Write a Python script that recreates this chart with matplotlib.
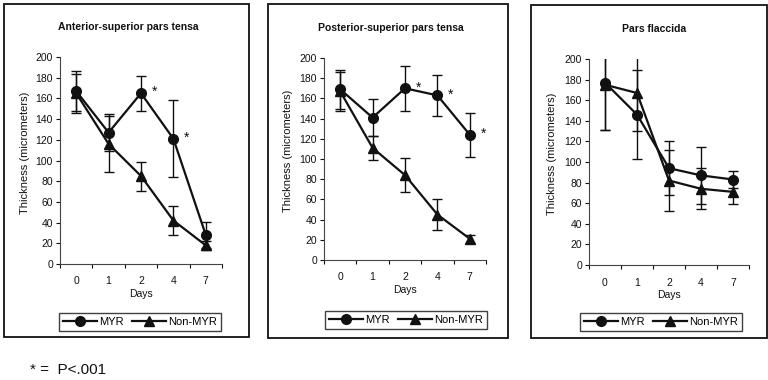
import matplotlib
matplotlib.use("Agg")
import matplotlib.pyplot as plt
from matplotlib.patches import Rectangle
from matplotlib.lines import Line2D

plt.rcParams['font.family'] = ['Liberation Sans', 'DejaVu Sans']

days = ["0", "1", "2", "4", "7"]
titles = ["Anterior-superior pars tensa", "Posterior-superior pars tensa", "Pars flaccida"]

myr_as = [167, 127, 165, 121, 28]
myr_as_err = [19, 18, 17, 37, 13]
non_as = [165, 116, 85, 42, 18]
non_as_err = [19, 27, 14, 14, 4]
sig_as = [2, 3]

myr_ps = [169, 141, 170, 163, 124]
myr_ps_err = [19, 18, 22, 20, 22]
non_ps = [167, 111, 84, 45, 21]
non_ps_err = [19, 12, 17, 15, 4]
sig_ps = [2, 3, 4]

myr_pf = [177, 146, 94, 87, 83]
myr_pf_err = [46, 43, 26, 28, 8]
non_pf = [175, 167, 82, 74, 71]
non_pf_err = [44, 37, 30, 20, 12]
sig_pf = []

panels = [
    (myr_as, myr_as_err, non_as, non_as_err, sig_as),
    (myr_ps, myr_ps_err, non_ps, non_ps_err, sig_ps),
    (myr_pf, myr_pf_err, non_pf, non_pf_err, sig_pf),
]

W, H = 768, 380
fig = plt.figure(figsize=(W / 100, H / 100), dpi=100)
fig.patch.set_facecolor('white')

def fx(px):
    return px / W

def fy(py):
    return 1 - py / H

# panel frames (left, top, right, bottom) in px
frames = [(4, 4, 249, 337), (268, 4, 508, 338), (531, 5, 767, 338)]
# axes rect (left, top, right, bottom) px
axrects = [(60, 57, 222, 264), (324, 58, 486, 260), (589, 59, 749, 265)]
title_pos = [(128, 27), (391, 28), (654, 29)]
ylab_x = [25, 288, 552]
legend_pos = [(140, 322), (406, 320), (661, 322)]

ink = '#111111'

for i, (myr, myr_err, non, non_err, sig) in enumerate(panels):
    l, t, r, b = frames[i]
    fig.patches.append(Rectangle((fx(l), fy(b)), fx(r - l), (b - t) / H,
                                 transform=fig.transFigure, fill=False,
                                 edgecolor=ink, linewidth=1.3))
    al, at, ar, ab = axrects[i]
    ax = fig.add_axes([fx(al), fy(ab), fx(ar - al), (ab - at) / H])
    x = list(range(len(days)))
    ax.errorbar(x, non, yerr=non_err, color=ink, marker='^', markersize=7,
                linewidth=1.6, elinewidth=1.0, capsize=3.5, capthick=1.0,
                label='Non-MYR', zorder=3)
    ax.errorbar(x, myr, yerr=myr_err, color=ink, marker='o', markersize=7,
                linewidth=1.6, elinewidth=1.0, capsize=3.5, capthick=1.0,
                label='MYR', zorder=4)
    for k in sig:
        ax.text(x[k] + 0.42, myr[k] + 1, '*', fontsize=10, ha='center',
                va='center', color=ink)
    ax.set_xlim(-0.5, len(days) - 0.5)
    ax.set_ylim(0, 200)
    ax.set_yticks(range(0, 201, 20))
    ax.set_xticks(x)
    ax.set_xticklabels(days)
    ax.set_xticks([k - 0.5 for k in range(len(days) + 1)], minor=True)
    ax.tick_params(axis='x', which='major', length=0, pad=9, labelsize=7.5, colors=ink)
    ax.tick_params(axis='x', which='minor', length=3, width=0.8, colors=ink)
    ax.tick_params(axis='y', length=3, width=0.8, labelsize=7.5, colors=ink, pad=2)
    for s in ['top', 'right']:
        ax.spines[s].set_visible(False)
    for s in ['left', 'bottom']:
        ax.spines[s].set_color('#444444')
        ax.spines[s].set_linewidth(0.8)
    ax.set_xlabel('Days', fontsize=7.5, labelpad=1.5, color=ink)
    ax.patch.set_alpha(0)
    tx, ty = title_pos[i]
    fig.text(fx(tx), fy(ty), titles[i], ha='center', va='center',
             fontsize=7.5, fontweight='bold', color=ink)
    fig.text(fx(ylab_x[i]), fy((at + ab) / 2 - 8), 'Thickness (micrometers)',
             rotation=90, ha='center', va='center', fontsize=8, color=ink)
    handles = [Line2D([], [], color=ink, marker='o', markersize=7, linewidth=1.6),
               Line2D([], [], color=ink, marker='^', markersize=7, linewidth=1.6)]
    lx, ly = legend_pos[i]
    leg = ax.legend(handles, ['MYR', 'Non-MYR'], loc='center',
                    bbox_to_anchor=(fx(lx), fy(ly)), bbox_transform=fig.transFigure,
                    ncol=2, fontsize=8, frameon=True, fancybox=False,
                    edgecolor=ink, handlelength=3.0, handletextpad=0.2,
                    columnspacing=0.8, borderpad=0.35, borderaxespad=0)
    leg.get_frame().set_linewidth(1.0)

fig.text(fx(30), fy(370), '* =  P<.001', fontsize=11, ha='left', va='center', color=ink)

fig.savefig('out.png', dpi=100, facecolor='white')
